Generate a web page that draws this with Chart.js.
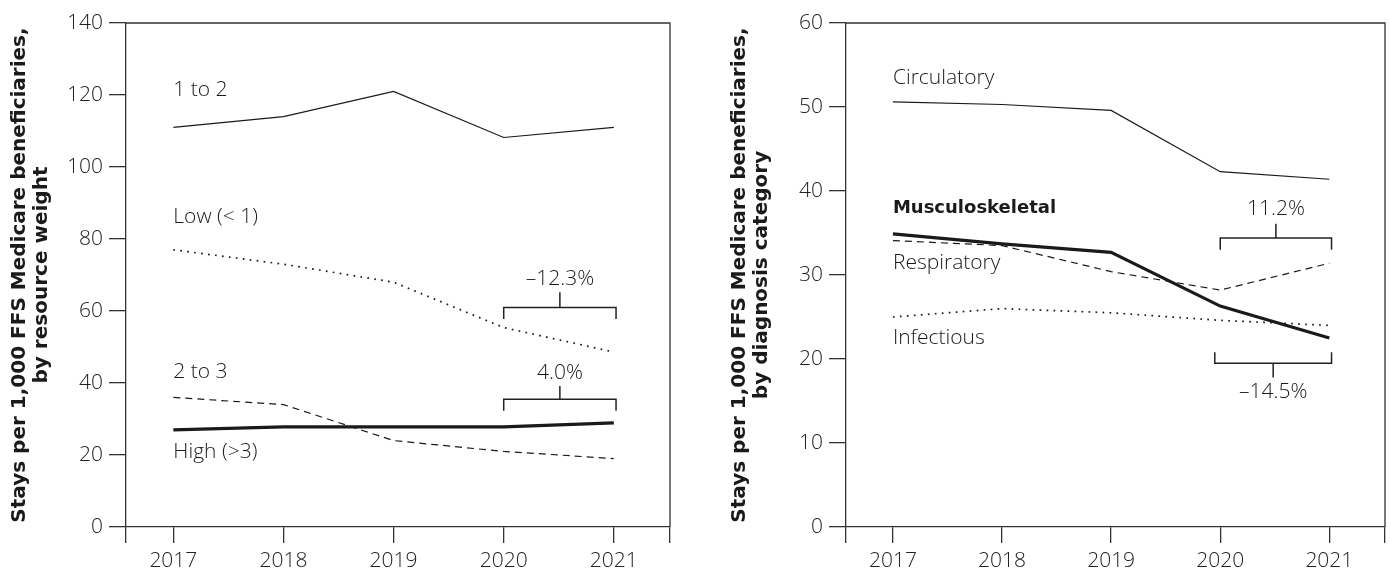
<!DOCTYPE html>
<html>
<head>
<meta charset="utf-8">
<script src="https://cdn.jsdelivr.net/npm/chart.js@4.4.1/dist/chart.umd.min.js"></script>
<style>
  html, body { margin: 0; padding: 0; background: #fff; }
  #wrap { position: relative; width: 1390px; height: 573px; }
  .panel { position: absolute; top: 0; height: 573px; }
</style>
</head>
<body>
<div id="wrap">
  <div class="panel" style="left:0;width:690px"><canvas id="weight-chart" width="690" height="573"></canvas></div>
  <div class="panel" style="left:720px;width:670px"><canvas id="diagnosis-chart" width="670" height="573"></canvas></div>
</div>
<script>
// years on the x axis
const years = [2017, 2018, 2019, 2020, 2021];

// left panel: stays by resource weight
const weightTicks = [0, 20, 40, 60, 80, 100, 120, 140];
const oneToTwo = [111, 114, 121, 108.2, 111];
const lowWeight = [77, 73, 68, 55.4, 48.6];
const twoToThree = [36, 34, 24, 21, 19];
const highWeight = [27, 27.8, 27.8, 27.8, 28.9];

// right panel: stays by diagnosis category
const diagnosisTicks = [0, 10, 20, 30, 40, 50, 60];
const circulatory = [50.6, 50.3, 49.6, 42.3, 41.4];
const musculoskeletal = [34.9, 33.7, 32.7, 26.3, 22.5];
const respiratory = [34.1, 33.5, 30.4, 28.2, 31.4];
const infectious = [25.0, 26.0, 25.5, 24.6, 24.0];

const ink = '#1a1a1a';
const axisInk = '#333';
const lightFont = "'Open Sans', sans-serif";
const boldFont = "'DejaVu Sans', sans-serif";

function toPoints(values) {
    return years.map((yr, i) => ({ x: yr, y: values[i] }));
}

function lineSet(label, values, style) {
    return {
        label,
        data: toPoints(values),
        borderColor: ink,
        borderWidth: style.width,
        borderDash: style.dash || [],
        pointRadius: 0,
        tension: 0,
        fill: false,
    };
}

const thin = { width: 1.2 };
const thick = { width: 3.2 };
const dashed = { width: 1.2, dash: [7, 5] };
const dotted = { width: 1.7, dash: [1.7, 5.3] };

// draws the box frame, series names and change brackets
const decorPlugin = {
    id: 'decor',
    afterDraw(chart, args, opts) {
        const { ctx, chartArea: a } = chart;
        const xs = chart.scales.x;
        const ys = chart.scales.y;
        ctx.save();
        ctx.strokeStyle = axisInk;
        ctx.lineWidth = 1.3;
        ctx.beginPath();
        ctx.moveTo(a.left, a.top);
        ctx.lineTo(a.right, a.top);
        ctx.lineTo(a.right, a.bottom);
        ctx.stroke();

        ctx.fillStyle = ink;
        ctx.textBaseline = 'middle';
        (opts.names || []).forEach(n => {
            ctx.textAlign = 'left';
            ctx.font = n.bold ? `bold 18px ${boldFont}` : `300 21px ${lightFont}`;
            ctx.fillText(n.text, xs.getPixelForValue(n.x), ys.getPixelForValue(n.y));
        });

        ctx.strokeStyle = '#222';
        ctx.lineWidth = 1.5;
        (opts.brackets || []).forEach(b => {
            const x0 = xs.getPixelForValue(b.from);
            const x1 = xs.getPixelForValue(b.to);
            const xm = (x0 + x1) / 2;
            const yb = ys.getPixelForValue(b.bar);
            const ye = ys.getPixelForValue(b.ends);
            const yst = ys.getPixelForValue(b.stem);
            ctx.beginPath();
            ctx.moveTo(x0, ye);
            ctx.lineTo(x0, yb);
            ctx.lineTo(x1, yb);
            ctx.lineTo(x1, ye);
            ctx.moveTo(xm, yb);
            ctx.lineTo(xm, yst);
            ctx.stroke();
            ctx.textAlign = 'center';
            ctx.font = `300 21px ${lightFont}`;
            ctx.fillText(b.text, xm, ys.getPixelForValue(b.textAt));
        });
        ctx.restore();
    }
};

function buildOptions(yMax, yTicks, title, padRight, decor) {
    return {
        responsive: false,
        animation: false,
        layout: { padding: { top: 23, right: padRight, left: 0, bottom: 0 } },
        plugins: {
            legend: { display: false },
            tooltip: { enabled: false },
            decor,
        },
        scales: {
            x: {
                type: 'linear',
                min: 2016.57,
                max: 2021.51,
                afterBuildTicks(s) {
                    s.ticks = [s.min, ...years, s.max].map(v => ({ value: v }));
                },
                afterFit(s) { s.height = 46; },
                ticks: {
                    autoSkip: false,
                    maxRotation: 0,
                    padding: 5,
                    color: '#222',
                    font: { family: lightFont, size: 21, weight: 300 },
                    callback: v => years.includes(v) ? String(v) : '',
                },
                grid: { drawOnChartArea: false, tickLength: 16, color: axisInk, lineWidth: 1.3 },
                border: { color: axisInk, width: 1.3 },
            },
            y: {
                min: 0,
                max: yMax,
                afterBuildTicks(s) {
                    s.ticks = yTicks.map(v => ({ value: v }));
                },
                afterFit(s) { s.width = 126; },
                ticks: {
                    padding: 6,
                    color: '#222',
                    font: { family: lightFont, size: 21, weight: 300 },
                },
                grid: { drawOnChartArea: false, tickLength: 17, color: axisInk, lineWidth: 1.3 },
                border: { color: axisInk, width: 1.3 },
                title: {
                    display: true,
                    text: title,
                    color: ink,
                    font: { family: boldFont, size: 20, weight: 'bold', lineHeight: 1.1 },
                    padding: { top: 9, bottom: 0 },
                },
            },
        },
    };
}

new Chart(document.getElementById('weight-chart'), {
    type: 'line',
    data: {
        datasets: [
            lineSet('1 to 2', oneToTwo, thin),
            lineSet('Low (< 1)', lowWeight, dotted),
            lineSet('2 to 3', twoToThree, dashed),
            lineSet('High (>3)', highWeight, thick),
        ]
    },
    options: buildOptions(140, weightTicks,
        ['Stays per 1,000 FFS Medicare beneficiaries,', 'by resource weight'], 20, {
            names: [
                { text: '1 to 2', x: 2017, y: 121.5 },
                { text: 'Low (< 1)', x: 2017, y: 86 },
                { text: '2 to 3', x: 2017, y: 43 },
                { text: 'High (>3)', x: 2017, y: 20.8 },
            ],
            brackets: [
                { text: '\u201312.3%', from: 2020, to: 2021.02, bar: 61, ends: 57.8, stem: 65.2, textAt: 69 },
                { text: '4.0%', from: 2020, to: 2021.02, bar: 35.5, ends: 32.3, stem: 39.2, textAt: 42.7 },
            ],
        }),
    plugins: [decorPlugin],
});

new Chart(document.getElementById('diagnosis-chart'), {
    type: 'line',
    data: {
        datasets: [
            lineSet('Circulatory', circulatory, thin),
            lineSet('Musculoskeletal', musculoskeletal, thick),
            lineSet('Respiratory', respiratory, dashed),
            lineSet('Infectious', infectious, dotted),
        ]
    },
    options: buildOptions(60, diagnosisTicks,
        ['Stays per 1,000 FFS Medicare beneficiaries,', 'by diagnosis category'], 4, {
            names: [
                { text: 'Circulatory', x: 2017, y: 53.4 },
                { text: 'Musculoskeletal', x: 2017, y: 37.9, bold: true },
                { text: 'Respiratory', x: 2017, y: 31.4 },
                { text: 'Infectious', x: 2017, y: 22.5 },
            ],
            brackets: [
                { text: '11.2%', from: 2020, to: 2021.02, bar: 34.4, ends: 33.0, stem: 36.1, textAt: 37.9 },
                { text: '\u201314.5%', from: 2019.95, to: 2021.02, bar: 19.5, ends: 20.8, stem: 17.8, textAt: 16.1 },
            ],
        }),
    plugins: [decorPlugin],
});
</script>
</body>
</html>
